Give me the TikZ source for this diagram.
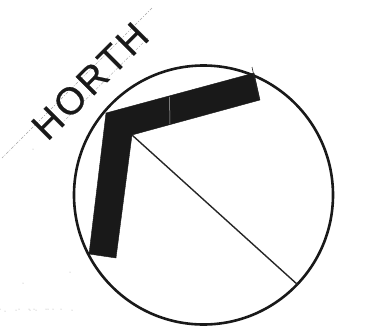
\documentclass[tikz,border=0pt]{standalone}
\usepackage{fontspec}
\setmainfont{Liberation Sans}[LetterSpace=8,FakeBold=0.6]
\tikzset{
  px/.style={x=1pt,y=-1pt},
  ring/.style={draw=black!90,line width=2.6pt},
  band/.style={fill=black!90,draw=black!90,line width=0.4pt},
  thinline/.style={draw=black!85,line width=1.4pt},
  seam/.style={draw=black!30,line width=0.5pt},
  guide/.style={draw=black!35,line width=0.4pt,dash pattern=on 3pt off 1.5pt on 1pt off 1.5pt},
  speck/.style={fill=black!35},
  lettering/.style={font=\fontsize{38}{38}\selectfont,text=black!90,rotate=45,inner sep=0pt}
}
\begin{document}
\begin{tikzpicture}[px]
\useasboundingbox (0,0) rectangle (381,325);
\coordinate (guideA) at (152,8);
\coordinate (guideB) at (2,158);
\coordinate (guideC) at (148,38);
\coordinate (guideD) at (63,122);
\draw[guide] (guideA) -- (guideB);
\draw[guide] (guideC) -- (guideD);
\node[lettering] (title) at (90,81) {HORTH};
\coordinate (centre) at (203.5,195);
\draw[ring] (centre) circle[radius=129.5];
\coordinate (corner) at (106,113);
\coordinate (inner) at (132,135);
\coordinate (endA) at (254,73);
\coordinate (endB) at (260,100);
\coordinate (endC) at (116,258);
\coordinate (endD) at (89,254);
\fill[band] (corner) -- (endA) -- (endB) -- (inner) -- (endC) -- (endD) -- cycle;
\coordinate (rim) at (298,285);
\draw[thinline] (inner) -- (rim);
\coordinate (tickA) at (252,67);
\coordinate (tickB) at (259,99);
\draw[draw=black!85,line width=0.6pt] (tickA) -- (tickB);
\coordinate (seamA) at (169.5,97);
\coordinate (seamB) at (170,124);
\draw[seam] (seamA) -- (seamB);
\foreach \sx/\sy in {0/309,5/311,16/310,19/309,29/309,30/310,34/309,36/310,46/309,48/309,53/309,61/309,72/310,23/283,70/272,33/149}
  \fill[speck] (\sx,\sy) circle[radius=0.5];
\end{tikzpicture}
\end{document}
